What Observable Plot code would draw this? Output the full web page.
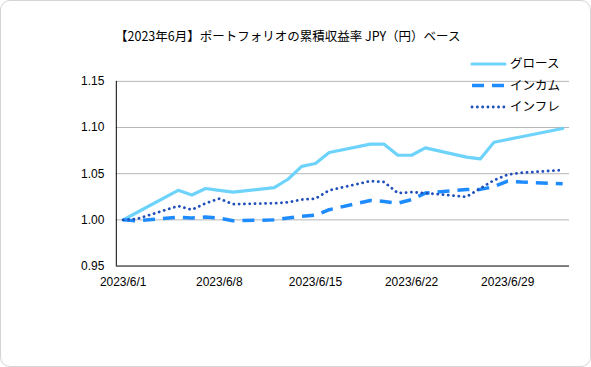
<!DOCTYPE html>
<html>
<head>
<meta charset="utf-8">
<script src="https://cdn.jsdelivr.net/npm/d3@7"></script>
<script src="https://cdn.jsdelivr.net/npm/@observablehq/plot@0.6"></script>
<style>
  html, body { margin: 0; padding: 0; background: #fff; }
  #wrap { position: relative; width: 591px; height: 367px; box-sizing: border-box;
          border: 1px solid #d4d4d4; border-radius: 10px; overflow: hidden; background: #fff; }
  #chart { position: absolute; left: -1px; top: -1px; }
  #title { position: absolute; left: 114px; top: 25px; font-family: "Noto Sans CJK JP"; font-size: 12.5px;
           color: #000; white-space: nowrap; letter-spacing: 0px; }
  #legend { position: absolute; left: 468px; top: 50px; }
</style>
</head>
<body>
<div id="wrap">
  <div id="chart"></div>
  <div id="title">【2023年6月】ポートフォリオの累積収益率 JPY（円）ベース</div>
  <svg id="legend" width="110" height="70"></svg>
</div>
<script>
// ---- data ----
const dates = ["2023-06-01","2023-06-02","2023-06-05","2023-06-06","2023-06-07","2023-06-08","2023-06-09",
  "2023-06-12","2023-06-13","2023-06-14","2023-06-15","2023-06-16",
  "2023-06-19","2023-06-20","2023-06-21","2023-06-22","2023-06-23",
  "2023-06-26","2023-06-27","2023-06-28","2023-06-29","2023-06-30","2023-07-03"];
const growth    = [1.000,1.008,1.032,1.027,1.034,1.032,1.030,1.035,1.044,1.058,1.061,1.073,1.082,1.082,1.070,1.070,1.078,1.068,1.066,1.084,1.087,1.090,1.099];
const income    = [1.000,0.999,1.003,1.002,1.003,1.002,0.999,1.000,1.002,1.004,1.005,1.011,1.021,1.020,1.018,1.022,1.029,1.033,1.033,1.036,1.042,1.041,1.039];
const inflation = [1.000,1.001,1.015,1.011,1.018,1.023,1.017,1.018,1.019,1.022,1.023,1.032,1.042,1.041,1.029,1.030,1.029,1.025,1.034,1.043,1.049,1.051,1.054];
const seriesNames = ["グロース","インカム","インフレ"];
const xTickDates = ["2023-06-01","2023-06-08","2023-06-15","2023-06-22","2023-06-29"];
const xTickLabels = ["2023/6/1","2023/6/8","2023/6/15","2023/6/22","2023/6/29"];
const yTicks = [0.95, 1.00, 1.05, 1.10, 1.15];

// ---- styles ----
const styles = [
  {stroke: "#6dd3fb", strokeWidth: 3.2, strokeDasharray: null, linecap: "round"},
  {stroke: "#1e8bff", strokeWidth: 3.5, strokeDasharray: "12,8", linecap: "butt"},
  {stroke: "#1f4fba", strokeWidth: 2.8, strokeDasharray: "0.1,5.2", linecap: "round"}
];

const parse = s => new Date(s + "T00:00:00Z");
const allSeries = [growth, income, inflation];
const rows = [];
allSeries.forEach((vals, si) => vals.forEach((v, i) => rows.push({date: parse(dates[i]), value: v, series: seriesNames[si]})));

const DAY = 864e5;
const x0 = new Date(parse(dates[0]).getTime() - DAY / 2);
const x1 = new Date(parse(dates[dates.length - 1]).getTime() + DAY / 2);
const tickDates = xTickDates.map(parse);

const lineMarks = seriesNames.map((name, si) => Plot.line(rows.filter(r => r.series === name), {
  x: "date", y: "value", stroke: styles[si].stroke, strokeWidth: styles[si].strokeWidth,
  strokeDasharray: styles[si].strokeDasharray, strokeLinecap: styles[si].linecap, strokeLinejoin: "round"
}));

const chart = Plot.plot({
  width: 591, height: 367,
  marginLeft: 116, marginRight: 21, marginTop: 81, marginBottom: 101,
  style: {fontFamily: "'Liberation Sans', Arial, sans-serif", fontSize: "12px", color: "#000", background: "transparent"},
  x: {type: "utc", domain: [x0, x1]},
  y: {domain: [0.95, 1.15]},
  marks: [
    Plot.ruleY(yTicks.slice(1), {stroke: "#b5b5b5", strokeWidth: 1}),
    Plot.axisY({ticks: yTicks, tickSize: 0, tickPadding: 12, tickFormat: d => d.toFixed(2), label: null, fill: "#000"}),
    Plot.axisX({ticks: tickDates, tickSize: 0, tickPadding: 11, tickFormat: (d, i) => xTickLabels[i], label: null, fill: "#000"}),
    Plot.ruleX([x0], {stroke: "#000", strokeWidth: 1}),
    Plot.ruleY([0.95], {stroke: "#000", strokeWidth: 1}),
    ...lineMarks
  ]
});
document.getElementById("chart").appendChild(chart);

// ---- legend ----
const lg = d3.select("#legend");
seriesNames.forEach((name, i) => {
  const y = 13 + i * 21.5;
  lg.append("line").attr("x1", 3).attr("x2", 36).attr("y1", y).attr("y2", y)
    .attr("stroke", styles[i].stroke).attr("stroke-width", styles[i].strokeWidth)
    .attr("stroke-dasharray", styles[i].strokeDasharray)
    .attr("stroke-linecap", styles[i].linecap);
  lg.append("text").attr("x", 41).attr("y", y).attr("dy", "0.35em")
    .attr("font-family", "Noto Sans CJK JP").attr("font-size", 12.5).attr("fill", "#000").text(name);
});
</script>
</body>
</html>
